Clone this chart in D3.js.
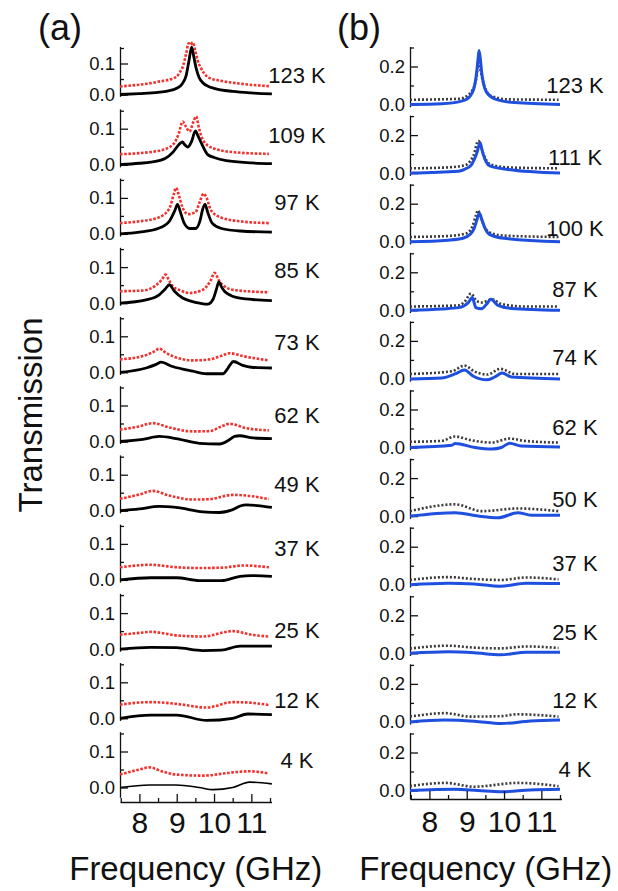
<!DOCTYPE html>
<html><head><meta charset="utf-8">
<script src="https://cdn.jsdelivr.net/npm/d3@7"></script>
<style>
html,body{margin:0;padding:0;background:#fff;}
svg text{font-family:"Liberation Sans",Arial,Helvetica,sans-serif;fill:#111;}
</style></head><body>
<svg id="fig" width="618" height="891"></svg>
<script>
// Frequency axis
const freqDomain = [7.48, 11.54];
const freqMajor = [8, 9, 10, 11];
const freqMinor = [7.5, 8.5, 9.5, 10.5, 11.5];

// (a) temperatures, top to bottom
const tempsA = ["123 K", "109 K", "97 K", "85 K", "73 K", "62 K", "49 K", "37 K", "25 K", "12 K", "4 K"];
// (b) temperatures, top to bottom
const tempsB = ["123 K", "111 K", "100 K", "87 K", "74 K", "62 K", "50 K", "37 K", "25 K", "12 K", "4 K"];

// Transmission level at which each temperature tag sits
const tagLevelA = [0.037, 0.06, 0.066, 0.07, 0.062, 0.051, 0.052, 0.066, 0.03, 0.03, 0.053];
const tagLevelB = [0.062, 0.043, 0.03, 0.072, 0.073, 0.066, 0.05, 0.072, 0.07, 0.073, 0.073];

// (a) measured transmission, solid black: [GHz, T]
const measuredA = [
  [[7.48,0],[8.0,0.003],[8.5,0.007],[8.75,0.011],[9.0,0.02],[9.15,0.035],[9.25,0.06],[9.33,0.11],[9.4,0.153],[9.46,0.12],[9.52,0.085],[9.6,0.055],[9.7,0.038],[9.85,0.026],[10.0,0.02],[10.5,0.01],[11.0,0.005],[11.55,0.002]],
  [[7.48,0],[8.0,0.004],[8.3,0.007],[8.7,0.018],[8.9,0.035],[9.05,0.055],[9.15,0.063],[9.22,0.055],[9.3,0.049],[9.4,0.065],[9.5,0.094],[9.57,0.08],[9.66,0.06],[9.83,0.028],[10.0,0.02],[10.33,0.011],[11.0,0.005],[11.55,0.003]],
  [[7.48,0],[8.0,0.005],[8.5,0.015],[8.8,0.035],[8.95,0.065],[9.02,0.082],[9.1,0.06],[9.2,0.03],[9.35,0.015],[9.5,0.015],[9.62,0.035],[9.7,0.07],[9.76,0.082],[9.83,0.06],[9.95,0.03],[10.2,0.015],[10.7,0.008],[11.55,0.005]],
  [[7.48,0],[8.18,0.009],[8.53,0.023],[8.7,0.04],[8.8,0.051],[8.94,0.033],[9.16,0.014],[9.4,0.005],[9.61,0.0],[9.83,-0.003],[9.97,0.01],[10.06,0.037],[10.13,0.059],[10.2,0.045],[10.28,0.033],[10.59,0.016],[11.04,0.01],[11.55,0.007]],
  [[7.48,0],[8.18,0.012],[8.45,0.022],[8.58,0.028],[8.89,0.016],[9.43,0.003],[9.79,-0.004],[10.24,-0.004],[10.35,0.008],[10.42,0.019],[10.52,0.03],[10.77,0.019],[11.0,0.014],[11.55,0.012]],
  [[7.48,0],[8.09,0.006],[8.53,0.014],[8.98,0.008],[9.61,-0.005],[10.15,-0.007],[10.37,0.002],[10.55,0.014],[10.69,0.016],[11.04,0.01],[11.55,0.008]],
  [[7.48,0],[8.0,0.005],[8.53,0.012],[8.98,0.009],[9.7,-0.003],[10.15,-0.005],[10.5,0.003],[10.7,0.013],[10.87,0.016],[11.55,0.009]],
  [[7.48,0],[8.3,0.006],[9.0,0.006],[9.6,-0.002],[10.2,-0.002],[10.7,0.01],[11.0,0.012],[11.55,0.01]],
  [[7.48,0],[8.3,0.005],[9.0,0.004],[9.7,-0.004],[10.2,-0.003],[10.7,0.008],[11.55,0.008]],
  [[7.48,0],[8.3,0.009],[9.0,0.009],[9.8,-0.006],[10.5,0.0],[10.9,0.012],[11.55,0.01]],
  [[7.48,0],[8.27,0.007],[8.98,0.007],[9.6,0.0],[9.97,-0.006],[10.5,0.0],[10.95,0.015],[11.55,0.01]]
];

// (a) calculated transmission, red dotted
const modelA = [
  [[7.48,0.026],[8.45,0.04],[8.98,0.056],[9.1,0.075],[9.16,0.088],[9.25,0.13],[9.32,0.165],[9.37,0.16],[9.43,0.168],[9.5,0.14],[9.56,0.11],[9.65,0.085],[9.74,0.067],[9.9,0.052],[10.15,0.045],[10.69,0.035],[11.47,0.027]],
  [[7.48,0.029],[8.54,0.039],[8.9,0.056],[9.05,0.085],[9.16,0.12],[9.25,0.105],[9.34,0.092],[9.45,0.12],[9.52,0.134],[9.6,0.1],[9.7,0.069],[9.97,0.046],[10.5,0.035],[11.47,0.03]],
  [[7.48,0.03],[8.0,0.035],[8.5,0.045],[8.8,0.07],[8.92,0.11],[8.98,0.128],[9.05,0.11],[9.15,0.075],[9.3,0.055],[9.5,0.06],[9.62,0.09],[9.72,0.112],[9.8,0.1],[9.92,0.065],[10.2,0.045],[10.7,0.035],[11.47,0.03]],
  [[7.48,0.033],[8.09,0.035],[8.45,0.05],[8.6,0.065],[8.7,0.079],[8.8,0.062],[8.89,0.047],[9.1,0.035],[9.34,0.028],[9.7,0.037],[9.92,0.065],[10.01,0.084],[10.15,0.06],[10.3,0.045],[10.5,0.037],[11.47,0.03]],
  [[7.48,0.036],[8.09,0.045],[8.4,0.058],[8.53,0.066],[8.7,0.055],[8.89,0.045],[9.43,0.033],[9.88,0.036],[10.2,0.046],[10.42,0.053],[10.77,0.045],[11.47,0.033]],
  [[7.48,0.033],[8.0,0.042],[8.36,0.051],[8.8,0.039],[9.43,0.028],[9.88,0.029],[10.2,0.042],[10.42,0.049],[10.87,0.037],[11.47,0.031]],
  [[7.48,0.033],[8.0,0.045],[8.36,0.055],[8.8,0.042],[9.43,0.031],[9.88,0.032],[10.5,0.044],[10.87,0.042],[11.47,0.032]],
  [[7.48,0.035],[8.3,0.042],[9.0,0.035],[9.6,0.033],[10.2,0.034],[10.8,0.04],[11.47,0.035]],
  [[7.48,0.04],[8.0,0.045],[8.3,0.048],[9.0,0.038],[9.7,0.035],[10.5,0.05],[11.0,0.04],[11.47,0.035]],
  [[7.48,0.038],[8.3,0.045],[9.0,0.04],[9.8,0.03],[10.5,0.045],[11.0,0.043],[11.47,0.037]],
  [[7.48,0.036],[8.0,0.05],[8.27,0.056],[8.6,0.045],[8.98,0.036],[9.7,0.033],[10.5,0.042],[10.95,0.045],[11.47,0.039]]
];

// (b) measured transmission, solid blue
const measuredB = [
  [[7.48,0],[8.33,0.004],[8.86,0.018],[9.05,0.035],[9.13,0.056],[9.2,0.09],[9.25,0.144],[9.3,0.23],[9.33,0.284],[9.37,0.23],[9.4,0.17],[9.45,0.11],[9.53,0.065],[9.75,0.03],[10.28,0.01],[11.5,0.0]],
  [[7.48,0],[8.78,0.01],[9.0,0.025],[9.13,0.045],[9.22,0.08],[9.27,0.105],[9.36,0.16],[9.4,0.13],[9.44,0.1],[9.52,0.06],[9.62,0.038],[10.11,0.019],[11.5,0.0]],
  [[7.48,0],[8.5,0.008],[8.9,0.018],[9.1,0.04],[9.2,0.07],[9.28,0.12],[9.34,0.15],[9.4,0.12],[9.48,0.075],[9.6,0.04],[10.0,0.018],[11.5,0.0]],
  [[7.48,0],[8.33,0.007],[8.78,0.014],[9.04,0.04],[9.15,0.067],[9.2,0.04],[9.24,0.014],[9.4,0.008],[9.53,0.032],[9.65,0.058],[9.84,0.026],[10.2,0.01],[11.5,0.0]],
  [[7.48,0],[8.33,0.005],[8.69,0.026],[8.94,0.047],[9.18,0.014],[9.53,-0.005],[9.75,0.01],[9.95,0.031],[10.2,0.01],[11.5,0.0]],
  [[7.48,0],[8.6,0.012],[8.69,0.021],[9.22,0.0],[9.67,-0.008],[9.93,0.0],[10.15,0.023],[10.46,0.008],[11.5,0.003]],
  [[7.48,0],[8.69,0.018],[9.31,0.0],[9.84,-0.009],[10.37,0.018],[10.73,0.005],[11.5,0.005]],
  [[7.48,0],[8.5,0.008],[9.2,0.004],[9.9,-0.008],[10.6,0.008],[11.5,0.006]],
  [[7.48,0],[8.5,0.008],[9.2,0.003],[9.9,-0.008],[10.6,0.006],[11.5,0.006]],
  [[7.48,0],[8.4,0.01],[9.2,0.004],[9.93,-0.009],[10.7,0.005],[11.5,0.01]],
  [[7.48,0],[8.69,0.007],[9.3,0.0],[9.93,-0.007],[10.7,0.003],[11.5,0.007]]
];

// (b) calculated transmission, grey dotted
const modelB = [
  [[7.48,0.025],[8.78,0.03],[9.04,0.05],[9.15,0.075],[9.22,0.108],[9.28,0.17],[9.31,0.24],[9.36,0.19],[9.44,0.118],[9.52,0.075],[9.62,0.048],[10.11,0.027],[11.46,0.025]],
  [[7.48,0.025],[8.5,0.03],[8.96,0.042],[9.1,0.065],[9.18,0.091],[9.31,0.17],[9.38,0.14],[9.44,0.105],[9.52,0.07],[9.62,0.047],[10.11,0.03],[11.46,0.025]],
  [[7.48,0.025],[8.5,0.03],[9.0,0.045],[9.15,0.08],[9.25,0.14],[9.3,0.165],[9.36,0.14],[9.45,0.09],[9.6,0.05],[10.0,0.032],[11.46,0.025]],
  [[7.48,0.02],[8.78,0.026],[8.96,0.049],[9.11,0.088],[9.27,0.049],[9.4,0.041],[9.55,0.05],[9.67,0.058],[9.93,0.033],[10.55,0.02],[11.46,0.02]],
  [[7.48,0.026],[8.6,0.04],[8.94,0.07],[9.2,0.04],[9.55,0.023],[9.9,0.053],[10.3,0.026],[11.46,0.026]],
  [[7.48,0.03],[8.33,0.035],[8.69,0.058],[9.1,0.039],[9.67,0.026],[10.15,0.047],[10.55,0.035],[11.46,0.026]],
  [[7.48,0.026],[8.69,0.062],[9.4,0.026],[10.37,0.04],[11.46,0.026]],
  [[7.48,0.025],[8.5,0.04],[9.2,0.03],[9.9,0.025],[10.6,0.038],[11.46,0.028]],
  [[7.48,0.025],[8.5,0.04],[9.2,0.03],[9.9,0.026],[10.6,0.036],[11.46,0.028]],
  [[7.48,0.028],[8.43,0.046],[9.1,0.028],[9.9,0.03],[10.37,0.04],[11.46,0.028]],
  [[7.48,0.023],[8.43,0.04],[9.2,0.02],[10.37,0.04],[11.46,0.023]]
];

const svg = d3.select("#fig");

function drawColumn(cfg) {
  const x = d3.scaleLinear().domain(freqDomain).range(cfg.xRange);
  const g = svg.append("g");
  const line = d3.line().curve(d3.curveMonotoneX);

  cfg.temps.forEach((t, i) => {
    const base = cfg.base(i);
    const k = cfg.pxPerUnit(i);
    const lo = i === cfg.temps.length - 1 ? cfg.lastLow : cfg.low;
    const y = d3.scaleLinear().domain([lo, cfg.top]).range([base - lo * k, base - cfg.top * k]);
    const p = g.append("g");

    // y axis: major ticks with labels, then minor ticks
    p.append("g").attr("transform", `translate(${cfg.xRange[0]},0)`)
      .call(d3.axisLeft(y).tickValues(cfg.yMajor).tickFormat(d3.format(".1f"))
        .tickSizeInner(-8).tickSizeOuter(0).tickPadding(5))
      .call(s => s.selectAll("text").style("font-size", "18.5px").attr("fill", "#111"))
      .call(s => s.select(".domain").attr("stroke", "#111").attr("stroke-width", 1.3))
      .call(s => s.selectAll(".tick line").attr("stroke", "#111").attr("stroke-width", 1.3));
    p.append("g").attr("transform", `translate(${cfg.xRange[0]},0)`)
      .call(d3.axisLeft(y).tickValues(cfg.yMinor).tickFormat("").tickSizeInner(-4).tickSizeOuter(0))
      .call(s => s.select(".domain").remove())
      .call(s => s.selectAll(".tick line").attr("stroke", "#111").attr("stroke-width", 1.3));

    // calculated curve (dotted)
    p.append("path")
      .attr("d", line.x(d => x(d[0])).y(d => y(d[1]))(cfg.model[i]))
      .attr("fill", "none").attr("stroke", cfg.modelColor)
      .attr("stroke-width", 2.6).attr("stroke-dasharray", cfg.modelDash);
    // measured curve (solid)
    p.append("path")
      .attr("d", line.x(d => x(d[0])).y(d => y(d[1]))(cfg.measured[i]))
      .attr("fill", "none").attr("stroke", cfg.measuredColor)
      .attr("stroke-width", cfg.measuredWidth(i)).attr("stroke-linejoin", "round");

    // temperature tag
    p.append("text").attr("x", cfg.tagX).attr("y", y(cfg.tagLevel[i]))
      .attr("text-anchor", "middle").style("font-size", "22px").text(t);
  });

  // shared frequency axis
  const ax = g.append("g").attr("transform", `translate(0,${cfg.xAxisY})`);
  ax.call(d3.axisBottom(x).tickValues(freqMajor).tickFormat(d3.format("d"))
      .tickSizeInner(-8).tickSizeOuter(0).tickPadding(cfg.xLabelPad))
    .call(s => s.selectAll("text").style("font-size", "30px").attr("fill", "#111"))
    .call(s => s.select(".domain").attr("stroke", "#111").attr("stroke-width", 1.3))
    .call(s => s.selectAll(".tick line").attr("stroke", "#111").attr("stroke-width", 1.3));
  g.append("g").attr("transform", `translate(0,${cfg.xAxisY})`)
    .call(d3.axisBottom(x).tickValues(freqMinor).tickFormat("").tickSizeInner(-4).tickSizeOuter(0))
    .call(s => s.select(".domain").remove())
    .call(s => s.selectAll(".tick line").attr("stroke", "#111").attr("stroke-width", 1.3));

  g.append("text").attr("x", (cfg.xRange[0] + cfg.xRange[1]) / 2).attr("y", 880)
    .attr("text-anchor", "middle").style("font-size", "33px").text("Frequency (GHz)");
  g.append("text").attr("x", cfg.panelTagX).attr("y", 40).style("font-size", "36px").text(cfg.panelTag);
}

drawColumn({
  temps: tempsA, measured: measuredA, model: modelA, tagLevel: tagLevelA,
  xRange: [120, 271.5],
  base: i => i === 0 ? 94.5 : 95.5 + 69.2 * i,
  pxPerUnit: i => i === 0 ? 310 : 360,
  low: -0.006, lastLow: -0.027, top: 0.155,
  yMajor: [0, 0.1], yMinor: [0.05, 0.15],
  modelColor: "#f2302c", modelDash: "2.6 1.6",
  measuredColor: "#000", measuredWidth: i => i === 10 ? 1.6 : 2.8,
  tagX: 297, xAxisY: 802, xLabelPad: 10,
  panelTag: "(a)", panelTagX: 38
});

drawColumn({
  temps: tempsB, measured: measuredB, model: modelB, tagLevel: tagLevelB,
  xRange: [410, 561.5],
  base: i => 104.5 + 68.6 * i,
  pxPerUnit: () => 190,
  low: -0.012, lastLow: -0.045, top: 0.305,
  yMajor: [0, 0.2], yMinor: [0.1, 0.3],
  modelColor: "#3a3a3a", modelDash: "2 2",
  measuredColor: "#1f4fde", measuredWidth: () => 3,
  tagX: 575, xAxisY: 799, xLabelPad: 12,
  panelTag: "(b)", panelTagX: 337
});

// shared y label
svg.append("text").attr("transform", "translate(42,415) rotate(-90)")
  .attr("text-anchor", "middle").style("font-size", "33px").text("Transmission");
</script>
</body></html>
